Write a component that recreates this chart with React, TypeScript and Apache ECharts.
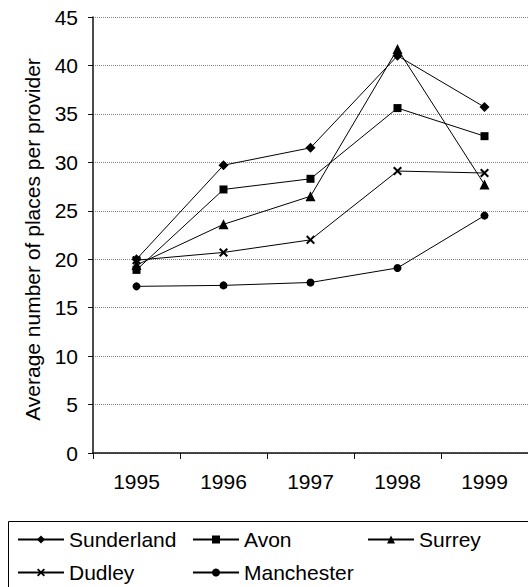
import React, { useEffect, useRef } from "react";
import * as echarts from "echarts";

// Years on the category axis
const years = ["1995", "1996", "1997", "1998", "1999"];

// Average number of places per provider, by authority
const sunderland = [20.0, 29.7, 31.5, 41.0, 35.7];
const avon = [18.9, 27.2, 28.3, 35.6, 32.7];
const surrey = [19.4, 23.6, 26.5, 41.7, 27.7];
const dudley = [19.9, 20.7, 22.0, 29.1, 28.9];
const manchester = [17.2, 17.3, 17.6, 19.1, 24.5];

const yTitle = "Average number of places per provider";

// Filled "x" marker
const crossSymbol =
  "path://M0,1.6 L1.6,0 L5,3.4 L8.4,0 L10,1.6 L6.6,5 L10,8.4 L8.4,10 L5,6.6 L1.6,10 L0,8.4 L3.4,5 Z";

const FONT = '"Liberation Sans", Arial, sans-serif';
const FS = 21;

export default function App() {
  const ref = useRef<HTMLDivElement>(null);

  useEffect(() => {
    if (!ref.current) return;
    const chart = echarts.init(ref.current, undefined, { renderer: "svg" });

    const line = (name: string, data: number[], symbol: string, size: number) => ({
      name,
      type: "line",
      data,
      symbol,
      symbolSize: size,
      showSymbol: true,
      lineStyle: { color: "#000", width: 1 },
      itemStyle: { color: "#000" },
      emphasis: { disabled: true },
    });

    const legendItem = (name: string, left: number, top: number) => ({
      data: [name],
      left,
      top,
      padding: 0,
      itemWidth: 46,
      itemHeight: 10,
      selectedMode: false,
      textStyle: { fontFamily: FONT, fontSize: FS, color: "#000" },
    });

    chart.setOption({
      animation: false,
      textStyle: { fontFamily: FONT },
      grid: { left: 93, right: -5, top: 17, bottom: 134 },
      xAxis: {
        type: "category",
        data: years,
        boundaryGap: true,
        axisLine: { lineStyle: { color: "#111", width: 1.5 } },
        axisTick: { show: true, length: 6, interval: 0, lineStyle: { color: "#111" } },
        axisLabel: { fontFamily: FONT, fontSize: FS, color: "#000", margin: 18 },
        splitLine: { show: false },
      },
      yAxis: {
        type: "value",
        min: 0,
        max: 45,
        interval: 5,
        name: yTitle,
        nameLocation: "middle",
        nameGap: 50,
        nameTextStyle: {
          fontFamily: FONT,
          fontSize: FS,
          color: "#000",
          padding: [0, 9, 0, 0],
        },
        axisLine: { show: true, lineStyle: { color: "#111", width: 1.5 } },
        axisTick: { show: true, length: 5, lineStyle: { color: "#111" } },
        axisLabel: { fontFamily: FONT, fontSize: FS, color: "#000", margin: 15 },
        splitLine: { show: true, lineStyle: { color: "#888", type: [1, 1], width: 1 } },
      },
      legend: [
        legendItem("Sunderland", 17, 529),
        legendItem("Avon", 192, 529),
        legendItem("Surrey", 367, 529),
        legendItem("Dudley", 17, 562),
        legendItem("Manchester", 192, 562),
      ],
      graphic: [
        {
          type: "rect",
          shape: { x: 8.5, y: 521.5, width: 560, height: 120 },
          style: { fill: "none", stroke: "#000", lineWidth: 1 },
          silent: true,
        },
      ],
      series: [
        line("Sunderland", sunderland, "diamond", 10),
        line("Avon", avon, "rect", 8),
        line("Surrey", surrey, "triangle", 10),
        line("Dudley", dudley, crossSymbol, 9),
        line("Manchester", manchester, "circle", 8),
      ],
    });

    return () => chart.dispose();
  }, []);

  return (
    <div
      ref={ref}
      style={{ position: "absolute", left: 0, top: 0, width: 528, height: 587, background: "#fff" }}
    />
  );
}
